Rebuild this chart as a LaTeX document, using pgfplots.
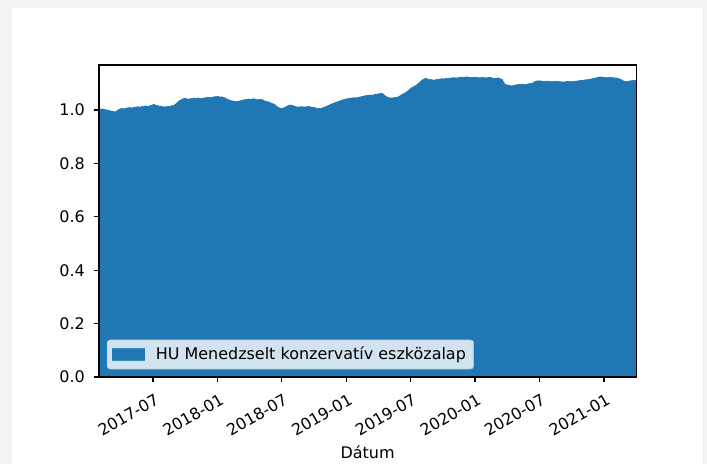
\documentclass[border=0pt]{standalone}
\usepackage{fontspec}
\setmainfont{DejaVu Sans}
\usepackage{pgfplots}
\pgfplotsset{compat=1.18}
\definecolor{mplblue}{HTML}{1F77B4}
\definecolor{outergray}{HTML}{F2F2F2}
\definecolor{legedge}{HTML}{CCCCCC}
\begin{document}
\begin{tikzpicture}
\fill[outergray] (0pt,0pt) rectangle (456pt,-299.3pt);
\fill[white] (7.7pt,-5.2pt) rectangle (453.4pt,-299.3pt);
\begin{axis}[
  at={(63.9pt,-243.2pt)}, anchor=south west,
  scale only axis, width=346.4pt, height=201.2pt,
  xmin=28, xmax=1552, ymin=0, ymax=1.168,
  axis on top,
  axis line style={line width=0.8pt},
  every tick/.style={black, line width=0.8pt},
  tick align=outside, major tick length=3.5pt,
  xtick pos=bottom, ytick pos=left,
  xtick={181,365,546,730,911,1095,1277,1461},
  xticklabels={2017-07,2018-01,2018-07,2019-01,2019-07,2020-01,2020-07,2021-01},
  ytick={0,0.2,0.4,0.6,0.8,1.0},
  /pgf/number format/assume math mode=true,
  yticklabel style={/pgf/number format/fixed,/pgf/number format/fixed zerofill,/pgf/number format/precision=1},
  ticklabel style={font=\fontsize{10.3}{12}\selectfont},
  xticklabel style={rotate=30, anchor=north east, inner sep=1pt, xshift=-1.5pt, yshift=-5pt},
  yticklabel style={inner sep=1pt, xshift=-4.5pt},
  xlabel={Dátum},
  xlabel style={font=\fontsize{10.3}{12}\selectfont, yshift=-1pt},
  legend style={at={(0,0)}, anchor=south west, xshift=5pt, yshift=5pt,
    fill=white, fill opacity=0.8, draw opacity=0.8, text opacity=1,
    draw=legedge, rounded corners=2pt, font=\fontsize{10.3}{12}\selectfont,
    inner xsep=3pt, inner ysep=2.5pt},
  legend cell align=left,
  legend image code/.code={\fill[mplblue, fill opacity=1, sharp corners] (0pt,-3.8pt) rectangle (21pt,3.8pt); \path (26pt,0pt);},
]
\addplot[fill=mplblue, draw=mplblue, line width=0.4pt] coordinates {
(28,1.004) (34,1.003) (39,1.004) (45,1.001) (51,1.000) (56,0.998) (62,0.996) (68,0.995) (73,0.992) (78,0.996)
(82,1.000) (88,1.004) (93,1.006) (99,1.004) (105,1.007) (110,1.008) (116,1.009) (122,1.007) (127,1.010) (133,1.011)
(139,1.012) (144,1.010) (150,1.013) (156,1.014) (161,1.015) (167,1.013) (173,1.016) (178,1.018) (184,1.021) (190,1.017)
(195,1.016) (201,1.013) (207,1.013) (212,1.011) (218,1.012) (224,1.013) (230,1.014) (235,1.016) (241,1.018) (247,1.024)
(252,1.030) (258,1.036) (264,1.040) (269,1.043) (275,1.043) (280,1.040) (286,1.042) (292,1.043) (298,1.045) (303,1.042)
(309,1.045) (315,1.044) (320,1.042) (326,1.045) (332,1.046) (337,1.048) (343,1.046) (349,1.048) (354,1.049) (360,1.050)
(366,1.051) (371,1.048) (377,1.049) (383,1.046) (388,1.043) (394,1.039) (400,1.036) (405,1.034) (411,1.033) (417,1.032)
(422,1.032) (428,1.034) (434,1.036) (439,1.038) (445,1.039) (451,1.041) (457,1.040) (462,1.041) (468,1.042) (474,1.039)
(479,1.038) (485,1.040) (491,1.039) (496,1.035) (502,1.032) (508,1.030) (513,1.028) (519,1.024) (525,1.022) (530,1.016)
(536,1.010) (542,1.007) (547,1.004) (553,1.009) (559,1.012) (564,1.016) (570,1.019) (576,1.017) (581,1.015) (587,1.012)
(593,1.010) (598,1.012) (604,1.012) (610,1.011) (615,1.011) (621,1.013) (627,1.012) (632,1.010) (638,1.009) (644,1.007)
(650,1.005) (655,1.006) (661,1.007) (667,1.010) (672,1.013) (678,1.016) (684,1.020) (689,1.023) (695,1.026) (701,1.029)
(706,1.031) (712,1.034) (718,1.037) (723,1.039) (729,1.041) (735,1.043) (740,1.044) (746,1.045) (752,1.046) (757,1.045)
(763,1.047) (769,1.049) (774,1.050) (780,1.052) (786,1.054) (791,1.055) (797,1.056) (803,1.055) (808,1.057) (814,1.059)
(820,1.060) (825,1.061) (831,1.063) (837,1.056) (843,1.050) (848,1.047) (854,1.045) (860,1.045) (865,1.046) (871,1.047)
(877,1.049) (882,1.053) (888,1.058) (894,1.062) (899,1.066) (905,1.072) (911,1.079) (916,1.084) (922,1.088) (928,1.093)
(933,1.098) (939,1.105) (945,1.112) (950,1.116) (956,1.119) (962,1.115) (967,1.114) (973,1.113) (979,1.111) (984,1.114)
(990,1.115) (996,1.116) (1001,1.117) (1007,1.116) (1013,1.118) (1018,1.118) (1024,1.119) (1030,1.120) (1035,1.121) (1041,1.119)
(1047,1.121) (1052,1.122) (1058,1.123) (1064,1.122) (1070,1.124) (1075,1.123) (1081,1.122) (1087,1.121) (1092,1.123) (1098,1.122)
(1104,1.121) (1109,1.120) (1115,1.122) (1121,1.121) (1126,1.120) (1132,1.121) (1138,1.122) (1143,1.120) (1149,1.118) (1155,1.119)
(1160,1.120) (1166,1.117) (1172,1.114) (1176,1.104) (1180,1.096) (1185,1.094) (1189,1.093) (1195,1.091) (1200,1.090) (1206,1.092)
(1211,1.094) (1217,1.095) (1223,1.096) (1228,1.097) (1234,1.096) (1240,1.096) (1245,1.097) (1251,1.099) (1257,1.100) (1262,1.104)
(1268,1.108) (1274,1.109) (1279,1.109) (1285,1.108) (1291,1.107) (1297,1.108) (1302,1.108) (1308,1.106) (1314,1.106) (1319,1.107)
(1325,1.107) (1331,1.106) (1336,1.106) (1342,1.105) (1348,1.105) (1353,1.106) (1359,1.107) (1365,1.106) (1370,1.106) (1376,1.107)
(1382,1.108) (1387,1.109) (1393,1.110) (1399,1.111) (1404,1.112) (1410,1.113) (1416,1.114) (1421,1.115) (1427,1.117) (1433,1.118)
(1438,1.120) (1444,1.122) (1450,1.124) (1455,1.123) (1461,1.122) (1467,1.121) (1472,1.121) (1478,1.122) (1484,1.121) (1490,1.120)
(1495,1.120) (1501,1.118) (1506,1.116) (1512,1.112) (1517,1.108) (1523,1.107) (1529,1.107) (1535,1.109) (1540,1.110) (1546,1.111)
(1552,1.111)
} \closedcycle;
\addlegendentry{HU Menedzselt konzervatív eszközalap}
\end{axis}
\pgfresetboundingbox
\path (0pt,0pt) rectangle (456pt,-299.3pt);
\end{tikzpicture}
\end{document}
